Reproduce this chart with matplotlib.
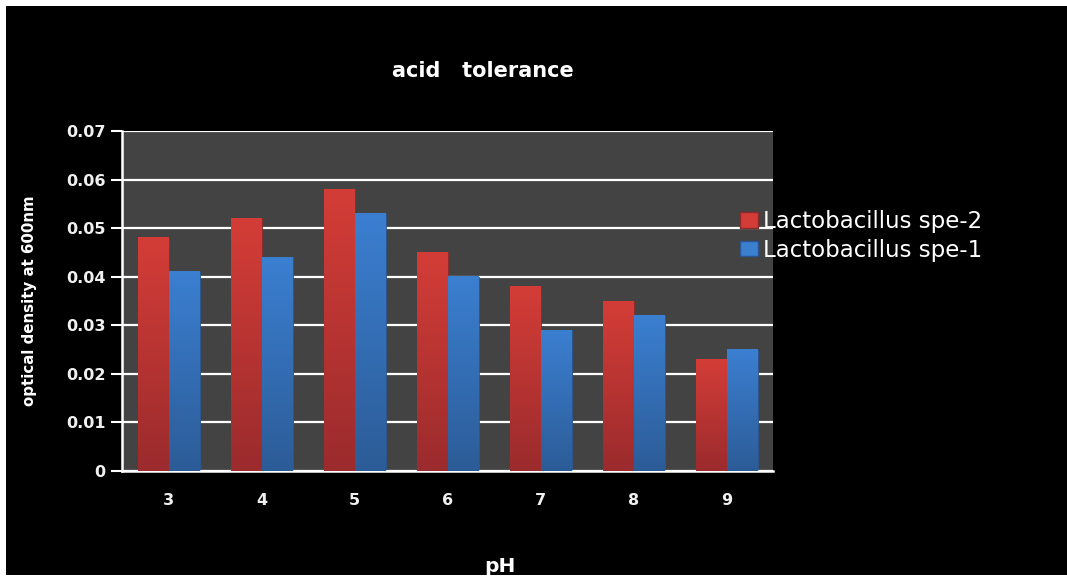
import numpy as np
import matplotlib.pyplot as plt
from matplotlib.colors import LinearSegmentedColormap
from matplotlib.patches import Rectangle, Patch

# optical density at 600nm for each pH
ph_values = ["3", "4", "5", "6", "7", "8", "9"]
spe2_od = [0.048, 0.052, 0.058, 0.045, 0.038, 0.035, 0.023]
spe1_od = [0.041, 0.044, 0.053, 0.040, 0.029, 0.032, 0.025]
series_names = ["Lactobacillus spe-2", "Lactobacillus spe-1"]

# (bottom colour, top colour) for the vertical gradients
red_grad = ("#9b2b2d", "#d43d37")
blue_grad = ("#2c5c97", "#3b7fd1")


def gradient_bars(ax, bars, colors):
    cmap = LinearSegmentedColormap.from_list("g", list(colors))
    grad = np.linspace(0, 1, 256).reshape(-1, 1)
    for b in bars:
        x0, y0 = b.get_x(), b.get_y()
        w, h = b.get_width(), b.get_height()
        ax.imshow(grad, extent=[x0, x0 + w, y0, y0 + h], cmap=cmap,
                  aspect="auto", origin="lower", zorder=3)


fig = plt.figure(figsize=(10.67, 5.77), dpi=100, facecolor="white")
# black panel with a thin light frame round it
fig.patches.append(Rectangle((6 / 1067, 2 / 577), 1061 / 1067, 569 / 577,
                             transform=fig.transFigure, facecolor="black",
                             edgecolor="none", zorder=-5))

ax = fig.add_axes([122 / 1067, 1 - 471 / 577, 651 / 1067, 340 / 577])
ax.set_zorder(1)
ax.set_facecolor("#434343")

x = np.arange(len(ph_values))
width = 1 / 3
bars2 = ax.bar(x - width / 2, spe2_od, width, color=red_grad[1],
               edgecolor="#8a2a2a", linewidth=0.6, zorder=2)
bars1 = ax.bar(x + width / 2, spe1_od, width, color=blue_grad[1],
               edgecolor="#2a5590", linewidth=0.6, zorder=2)
gradient_bars(ax, bars2, red_grad)
gradient_bars(ax, bars1, blue_grad)

ax.set_xlim(-0.5, len(ph_values) - 0.5)
ax.set_ylim(0, 0.07)
ax.set_yticks(np.arange(0, 0.0701, 0.01))
ax.set_yticklabels(["0", "0.01", "0.02", "0.03", "0.04", "0.05", "0.06", "0.07"])
ax.set_xticks(x)
ax.set_xticklabels(ph_values)

ax.yaxis.grid(True, color="white", linewidth=1.6, zorder=1)
ax.set_axisbelow(True)
for s in ["top", "right"]:
    ax.spines[s].set_visible(False)
for s in ["left", "bottom"]:
    ax.spines[s].set_color("white")
    ax.spines[s].set_linewidth(1.8)

ax.tick_params(axis="y", colors="white", length=8, width=1.5, pad=4,
               labelsize=11.5)
ax.tick_params(axis="x", length=0, pad=16, labelcolor="white", labelsize=11.5)
for lbl in ax.get_xticklabels() + ax.get_yticklabels():
    lbl.set_fontweight("bold")
    lbl.set_color("#f0f0f0")

fig.text(483 / 1067, 1 - 71 / 577, "acid   tolerance", color="white",
         fontsize=15, fontweight="bold", ha="center", va="center")
fig.text(500 / 1067, 1 - 566 / 577, "pH", color="white", fontsize=14.5,
         fontweight="bold", ha="center", va="center")
fig.text(30 / 1067, 1 - 301 / 577, "optical density at 600nm", color="white",
         fontsize=10.8, fontweight="bold", rotation=90, ha="center",
         va="center")

handles = [Patch(facecolor=red_grad[1], edgecolor="#8a2a2a"),
           Patch(facecolor=blue_grad[1], edgecolor="#2a5590")]
fig.legend(handles, series_names, loc="center left",
           bbox_to_anchor=(740 / 1067, 1 - 236 / 577), frameon=False,
           prop={"size": 16.5}, labelcolor="white",
           handlelength=0.8, handleheight=0.65, handletextpad=0.2,
           labelspacing=0.25, borderpad=0, borderaxespad=0)

fig.savefig("out.png", dpi=100, facecolor=fig.get_facecolor())
